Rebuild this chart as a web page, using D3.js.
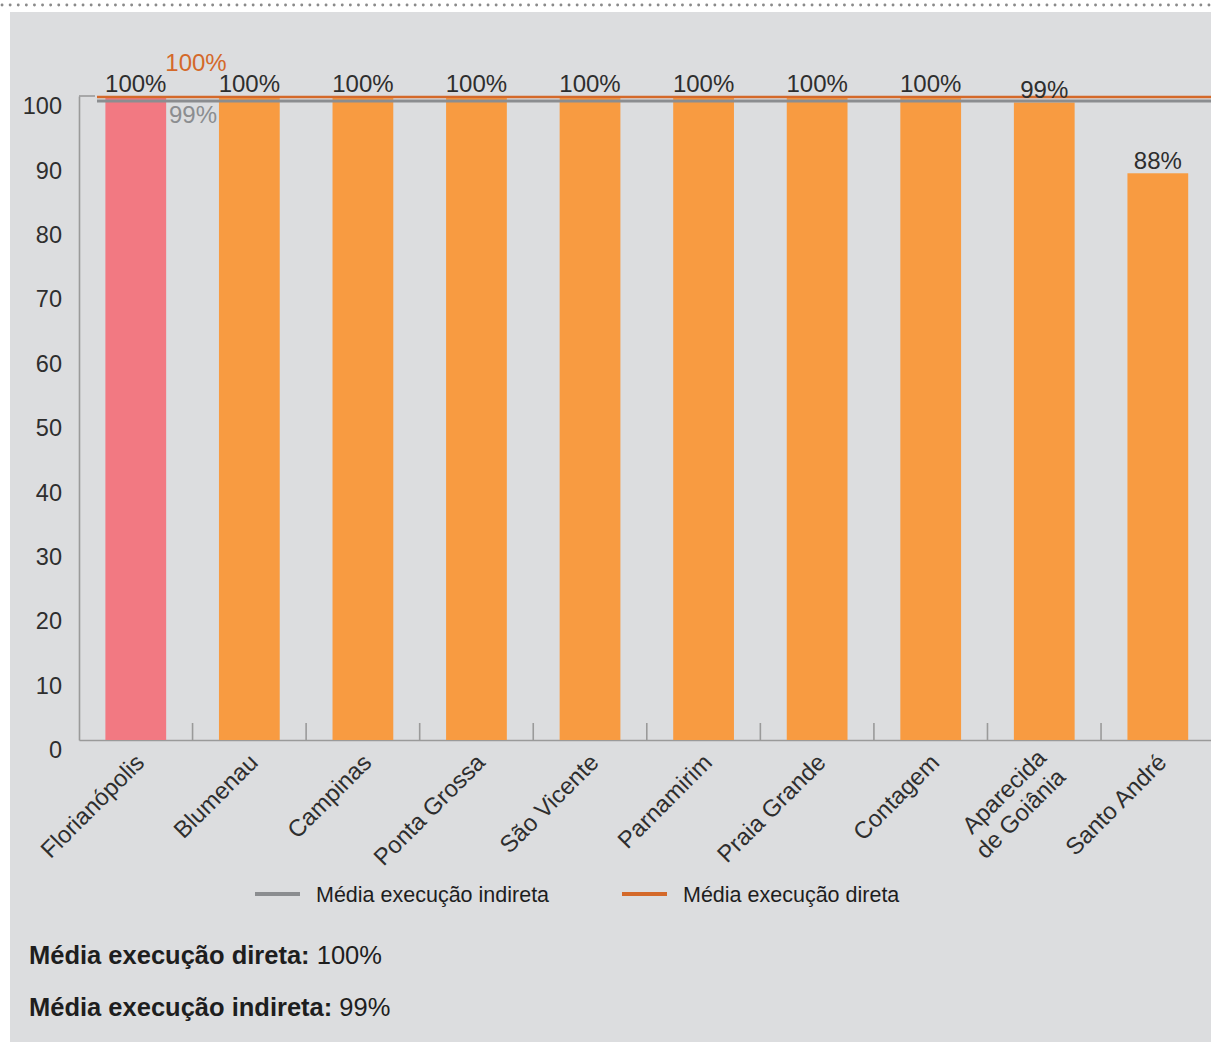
<!DOCTYPE html>
<html><head><meta charset="utf-8">
<script src="https://cdn.jsdelivr.net/npm/d3@7"></script>
<style>
html,body{margin:0;padding:0;background:#fff;}
svg{display:block;font-family:"Liberation Sans",Arial,Helvetica,sans-serif;}
</style></head>
<body>
<svg id="chart" width="1211" height="1042"></svg>
<script>
const categories = ["Florianópolis","Blumenau","Campinas","Ponta Grossa","São Vicente","Parnamirim","Praia Grande","Contagem","Aparecida\nde Goiânia","Santo André"];
const values = [100,100,100,100,100,100,100,100,99,88];
const valueLabels = ["100%","100%","100%","100%","100%","100%","100%","100%","99%","88%"];
const highlighted = ["Florianópolis"];
const yTicks = [0,10,20,30,40,50,60,70,80,90,100];
const avgDireta = 100;
const avgIndireta = 99;
const avgDiretaLabel = "100%";
const avgIndiretaLabel = "99%";
const legendItems = ["Média execução indireta","Média execução direta"];
const summary = [["Média execução direta:", " 100%"],["Média execução indireta:", " 99%"]];

const svg = d3.select("#chart");
const W = 1211, H = 1042;
const cText = "#2e2e2e", cAxis = "#9a9a9a", cOrange = "#f89b41", cPink = "#f27982",
      cDir = "#d4692a", cInd = "#8b8d90";

// dotted top rule
svg.append("line").attr("x1",2).attr("x2",W).attr("y1",5).attr("y2",5)
  .attr("stroke","#8a8a8a").attr("stroke-width",2.8).attr("stroke-linecap","round")
  .attr("stroke-dasharray","0.1 8");
// panel
svg.append("rect").attr("x",10).attr("y",12).attr("width",W-10).attr("height",H-12).attr("fill","#dcdddf");

const x0 = 79, y0 = 740, yTop = 96;
const x = d3.scaleBand().domain(categories).range([x0, x0 + 113.56*categories.length]).padding(0);
const y = d3.scaleLinear().domain([0,100]).range([y0, yTop]);
const bw = x.step()*0.535;

// y axis
const yAxis = d3.axisLeft(y).tickValues(yTicks).tickSize(0).tickPadding(17);
const gy = svg.append("g").attr("transform",`translate(${x0},0)`).call(yAxis);
gy.select(".domain").attr("stroke",cAxis).attr("stroke-width",1.6);
gy.selectAll("text").attr("fill",cText).attr("font-size",23.5).attr("dy","0.75em")
  .attr("font-family","'Liberation Sans',Arial,sans-serif");
// small top cap
svg.append("line").attr("x1",x0).attr("x2",x0+16).attr("y1",y(100)).attr("y2",y(100)).attr("stroke",cAxis).attr("stroke-width",1.6);

// x axis
const xAxis = d3.axisBottom(x).tickSize(0).tickFormat("");
const gx = svg.append("g").attr("transform",`translate(0,${y0})`).call(xAxis);
gx.select(".domain").attr("stroke",cAxis).attr("stroke-width",1.6);
// separators between bands
svg.append("g").selectAll("line").data(categories.slice(1)).join("line")
  .attr("x1",d=>x(d)).attr("x2",d=>x(d)).attr("y1",y0).attr("y2",y0-17)
  .attr("stroke",cAxis).attr("stroke-width",1.6);

// bars
svg.append("g").selectAll("rect").data(categories).join("rect")
  .attr("x",d=>x(d)+x.bandwidth()/2-bw/2).attr("width",bw)
  .attr("y",(d,i)=>y(values[i])).attr("height",(d,i)=>y0-y(values[i]))
  .attr("fill",d=>highlighted.includes(d)?cPink:cOrange);

// average lines
svg.append("line").attr("x1",97).attr("x2",W).attr("y1",y(avgIndireta)-1.5).attr("y2",y(avgIndireta)-1.5)
  .attr("stroke",cInd).attr("stroke-width",3);
svg.append("line").attr("x1",97).attr("x2",W).attr("y1",y(avgDireta)+1).attr("y2",y(avgDireta)+1)
  .attr("stroke",cDir).attr("stroke-width",2.5);

// value labels
svg.append("g").selectAll("text").data(categories).join("text")
  .attr("x",d=>x(d)+x.bandwidth()/2).attr("y",(d,i)=>y(values[i])-4)
  .attr("text-anchor","middle").attr("font-size",24).attr("fill",cText)
  .text((d,i)=>valueLabels[i]);

// average annotations
svg.append("text").attr("x",196).attr("y",y(avgDireta)-25).attr("text-anchor","middle")
  .attr("font-size",24).attr("fill",cDir).text(avgDiretaLabel);
svg.append("text").attr("x",193).attr("y",y(avgIndireta)+21).attr("text-anchor","middle")
  .attr("font-size",24).attr("fill",cInd).text(avgIndiretaLabel);

// x labels
const lh = 27;
const xl = svg.append("g").selectAll("text").data(categories).join("text")
  .attr("transform",d=>{
    const multi = d.includes("\n");
    return `translate(${x(d)+x.bandwidth()/2+10+(multi?3:0)},${764+(multi?5:0)}) rotate(-45)`;
  })
  .attr("text-anchor","end").attr("font-size",23.8).attr("fill",cText);
xl.each(function(d){
  const lines = d.split("\n");
  const t = d3.select(this);
  lines.forEach((ln,i)=>{
    t.append("tspan").attr("x",0).attr("y",(i-(lines.length-1)/2)*lh).text(ln);
  });
});

// legend
const lg = svg.append("g");
lg.append("line").attr("x1",255).attr("x2",300).attr("y1",894).attr("y2",894).attr("stroke",cInd).attr("stroke-width",4);
lg.append("text").attr("x",316).attr("y",902).attr("font-size",21.5).attr("fill","#1e1e1e").text(legendItems[0]);
lg.append("line").attr("x1",622).attr("x2",667).attr("y1",894).attr("y2",894).attr("stroke",cDir).attr("stroke-width",4);
lg.append("text").attr("x",683).attr("y",902).attr("font-size",21.5).attr("fill","#1e1e1e").text(legendItems[1]);

// summary
summary.forEach((s,i)=>{
  const t = svg.append("text").attr("x",29).attr("y",964+i*52).attr("font-size",25.5).attr("fill","#1e1e1e");
  t.append("tspan").attr("font-weight","bold").text(s[0]);
  t.append("tspan").text(s[1]);
});
</script>
</body></html>
